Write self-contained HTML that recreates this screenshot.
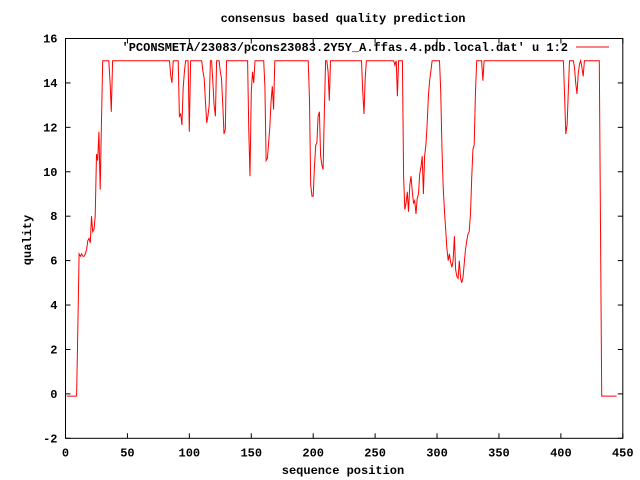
<!DOCTYPE html>
<html><head><meta charset="utf-8"><style>
html,body{margin:0;padding:0;background:#fff;}
svg{display:block;}
text{font-family:"Liberation Mono","DejaVu Sans Mono",monospace;font-weight:bold;font-size:12px;fill:#000;}
</style></head><body>
<svg id="chart" width="640" height="480" viewBox="0 0 640 480" xmlns="http://www.w3.org/2000/svg">
<rect x="0" y="0" width="640" height="480" fill="#fff"/>
<text x="343" y="22" text-anchor="middle">consensus based quality prediction</text>
<g id="axes"></g>
<rect x="65.5" y="38.5" width="557.3" height="399.8" fill="none" stroke="#000" stroke-width="1"/>
<g id="series"></g>
<text x="568" y="51" text-anchor="end">'PCONSMETA/23083/pcons23083.2Y5Y_A.ffas.4.pdb.local.dat' u 1:2</text>
<line x1="576" y1="47" x2="609" y2="47" stroke="#f00" stroke-width="1"/>
<text x="343" y="474" text-anchor="middle">sequence position</text>
<text x="0" y="0" text-anchor="middle" transform="translate(31,240) rotate(-90)">quality</text>
</svg>
<script>
const xTicks = [0,50,100,150,200,250,300,350,400,450];
const yTicks = [-2,0,2,4,6,8,10,12,14,16];
const positions = [1,9,10,11,12,13,14,15,16,17,18,19,20,21,22,23,24,25,26,27,28,29,30,35,36,37,38,84,85,86,87,91,92,93,94,95,96,97,99,100,101,110,111,112,113,114,115,116,117,118,119,120,121,122,124,125,126,127,128,129,130,147,148,149,150,151,152,153,160,161,162,163,164,165,166,167,168,169,196,197,198,199,200,201,202,203,204,205,206,207,208,209,210,211,212,213,214,239,240,241,242,243,265,266,267,268,269,272,273,274,275,276,277,278,279,280,281,282,283,284,285,286,287,288,289,290,291,292,293,294,295,296,302,303,304,305,306,307,308,309,310,311,312,313,314,315,316,317,318,319,320,321,322,323,324,325,326,327,328,329,330,331,332,336,337,338,402,403,404,405,406,407,410,411,412,413,414,415,416,417,418,419,431,432,433,445];
const quality = [-0.1,-0.1,3.1,6.3,6.2,6.3,6.2,6.2,6.3,6.5,6.9,7.0,6.8,8.0,7.3,7.4,8.0,10.8,10.5,11.8,9.2,12.1,15,15,14,12.7,15,15,14.3,14.0,15,15,12.5,12.6,12.1,13.8,14.5,15,15,11.8,15,15,14.5,14.2,13.2,12.2,12.5,13,15,15,14,13,12.5,15,15,14.5,14.2,13,11.7,11.9,15,15,11.8,9.8,13.6,14.5,14,15,15,13.85,10.5,10.6,11.3,12,13.2,13.85,12.8,15,15,13.25,9.4,8.9,8.9,10.2,11.2,11.3,12.5,12.7,10.7,10.3,10.1,12.6,15,15,14.5,13.2,15,15,13.65,12.6,14.2,15,15,14.8,15,13.4,15,15,9.8,8.3,8.6,9.1,8.2,9.4,9.8,9.1,8.6,8.7,8.1,8.8,9.0,9.9,10.2,10.7,9.0,10.7,11.2,12.1,13.4,14.1,14.5,15,15,13.65,11.0,9.3,8.2,7.4,6.55,6.0,6.3,5.9,5.7,6.0,7.1,5.6,5.3,5.2,6.0,5.2,5.0,5.25,5.9,6.5,6.9,7.2,7.3,8.1,9.7,11.0,11.2,13.5,15,15,14.1,15,15,13.4,11.7,12.1,13.6,15,15,14.7,14.0,13.5,14.4,14.85,15,14.7,14.3,15,15,7.5,-0.1,-0.1];

const NS = "http://www.w3.org/2000/svg";
const L = 65.5, R = 622.8, T = 38.5, B = 438.3;
function xs(v){ return L + (v - 0) / 450 * (R - L); }
function ys(v){ return B - (v + 2) / 18 * (B - T); }
const axes = document.getElementById('axes');
xTicks.forEach(t => {
  const x = xs(t);
  const a = document.createElementNS(NS,'line');
  a.setAttribute('x1',x);a.setAttribute('x2',x);a.setAttribute('y1',B);a.setAttribute('y2',B-5);a.setAttribute('stroke','#000');
  
  
  axes.appendChild(a);
  const b = document.createElementNS(NS,'line');
  b.setAttribute('x1',x);b.setAttribute('x2',x);b.setAttribute('y1',T);b.setAttribute('y2',T+5);b.setAttribute('stroke','#000');
  
  
  axes.appendChild(b);
  const s = document.createElementNS(NS,'text');
  s.setAttribute('x',x);s.setAttribute('y',B+18);s.setAttribute('text-anchor','middle');
  s.textContent = t;
  
  
  axes.appendChild(s);
});
yTicks.forEach(t => {
  const y = ys(t);
  const a = document.createElementNS(NS,'line');
  a.setAttribute('x1',L);a.setAttribute('x2',L+5);a.setAttribute('y1',y);a.setAttribute('y2',y);a.setAttribute('stroke','#000');
  
  
  axes.appendChild(a);
  const b = document.createElementNS(NS,'line');
  b.setAttribute('x1',R);b.setAttribute('x2',R-5);b.setAttribute('y1',y);b.setAttribute('y2',y);b.setAttribute('stroke','#000');
  
  
  axes.appendChild(b);
  const s = document.createElementNS(NS,'text');
  s.setAttribute('x',L-8);s.setAttribute('y',y+4);s.setAttribute('text-anchor','end');
  s.textContent = t;
  
  
  axes.appendChild(s);
});
const pts = positions.map((p,i) => xs(p).toFixed(1) + ',' + ys(quality[i]).toFixed(1)).join(' ');
const pl = document.createElementNS(NS,'polyline');
pl.setAttribute('points', pts);
pl.setAttribute('fill','none');
pl.setAttribute('stroke','#f00');
pl.setAttribute('stroke-width','1');


document.getElementById('series').appendChild(pl);
</script>
</body></html>
